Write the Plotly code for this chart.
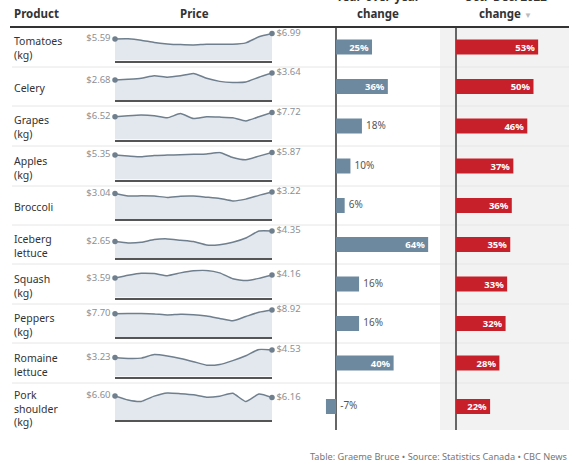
import plotly.graph_objects as go

# Data (monthly average retail prices, Dec 2021 - Dec 2022)

months = ['Dec 2021', 'Jan 2022', 'Feb 2022', 'Mar 2022', 'Apr 2022', 'May 2022', 'Jun 2022',
          'Jul 2022', 'Aug 2022', 'Sep 2022', 'Oct 2022', 'Nov 2022', 'Dec 2022']

products = ['Tomatoes<br>(kg)', 'Celery', 'Grapes<br>(kg)', 'Apples<br>(kg)', 'Broccoli',
            'Iceberg<br>lettuce', 'Squash<br>(kg)', 'Peppers<br>(kg)', 'Romaine<br>lettuce',
            'Pork<br>shoulder<br>(kg)']

tomatoes = [5.59, 5.61, 5.26, 4.65, 4.30, 4.12, 4.04, 4.20, 4.20, 4.20, 4.57, 6.14, 6.99]
celery = [2.68, 2.79, 2.93, 3.26, 3.07, 3.26, 3.58, 2.93, 2.51, 2.37, 2.43, 3.07, 3.64]
grapes = [6.52, 6.80, 7.00, 6.80, 6.20, 7.40, 6.00, 6.50, 6.40, 6.20, 5.29, 6.50, 7.72]
apples = [5.35, 5.12, 4.92, 5.23, 5.31, 5.39, 5.47, 5.55, 5.86, 4.77, 4.28, 5.08, 5.87]
broccoli = [3.04, 2.74, 2.76, 2.74, 2.57, 2.72, 2.74, 2.60, 2.45, 2.16, 2.37, 2.82, 3.22]
iceberg = [2.65, 2.42, 2.53, 2.97, 3.08, 2.86, 2.64, 2.09, 2.14, 2.53, 3.22, 4.34, 4.35]
squash = [3.59, 4.11, 4.49, 4.43, 4.05, 4.56, 4.94, 5.00, 4.56, 3.48, 3.13, 3.54, 4.16]
peppers = [7.70, 7.73, 7.73, 7.61, 7.27, 7.50, 7.39, 6.93, 6.14, 5.34, 6.76, 8.18, 8.92]
romaine = [3.23, 3.07, 3.13, 3.73, 3.49, 3.07, 2.53, 1.93, 2.05, 2.71, 3.54, 4.60, 4.53]
pork = [6.60, 5.48, 5.10, 6.54, 7.40, 7.21, 6.92, 6.25, 6.54, 7.31, 5.05, 7.12, 6.16]

yoy_change = [25, 36, 18, 10, 6, 64, 16, 16, 40, -7]
q4_change = [53, 50, 46, 37, 36, 35, 33, 32, 28, 22]

prices = [tomatoes, celery, grapes, apples, broccoli, iceberg, squash, peppers, romaine, pork]

# Layout helpers (pixels -> paper)
W, H = 576, 466
row_edges = [27, 67, 106, 146, 186, 225, 264, 304, 343, 383, 430]


def px(x):
    return x / W


def py(y):
    return 1 - y / H


FONT = 'Noto Sans'
LINE = '#6f7f8d'
FILL = '#e3e8ee'
BLUE = '#6d899f'
RED = '#c8202b'

fig = go.Figure()
layout = {}
shapes = []
annotations = []

for i, series in enumerate(prices):
    top, bot = row_edges[i], row_edges[i + 1]
    c = (top + bot) / 2
    k = 3 * i + 1

    # sparkline
    xa, ya = f'x{k}', f'y{k}'
    layout[f'xaxis{k}'] = dict(domain=[px(115), px(272)], range=[0, 12], anchor=ya,
                               showline=True, linecolor='#555', linewidth=1.5,
                               showgrid=False, zeroline=False, showticklabels=False, ticks='')
    layout[f'yaxis{k}'] = dict(domain=[py(c + 13.5), py(c - 14.5)], range=[0, max(series) * 28 / 27],
                               anchor=xa, visible=False)
    fig.add_trace(go.Scatter(x=months, y=series, xaxis=xa, yaxis=ya, mode='lines',
                             line=dict(color=LINE, width=1.5, shape='spline', smoothing=0.5),
                             fill='tozeroy', fillcolor=FILL, hoverinfo='skip'))
    fig.add_trace(go.Scatter(x=[months[0], months[-1]], y=[series[0], series[-1]],
                             xaxis=xa, yaxis=ya, mode='markers+text',
                             marker=dict(color=LINE, size=5.5),
                             text=[f'${series[0]:.2f}', f'${series[-1]:.2f}'],
                             textposition=['middle left', 'middle right'],
                             textfont=dict(size=9.5, color='#8c9096'),
                             cliponaxis=False, hoverinfo='skip'))

    # year-over-year bar
    xa, ya = f'x{k + 1}', f'y{k + 1}'
    v = yoy_change[i]
    layout[f'xaxis{k + 1}'] = dict(domain=[px(312), px(446)], range=[-16.7, 76.4], anchor=ya,
                                   showgrid=False, zeroline=True, zerolinecolor='#666',
                                   zerolinewidth=1.5, showticklabels=False, ticks='')
    layout[f'yaxis{k + 1}'] = dict(domain=[py(bot), py(top)], range=[-0.5, 0.5], anchor=xa,
                                   visible=False)
    fig.add_trace(go.Bar(x=[v], y=[0], orientation='h', xaxis=xa, yaxis=ya,
                         width=15 / (bot - top), marker=dict(color=BLUE, line=dict(width=0)),
                         text=[f'{v}%'] if v >= 25 else None,
                         textposition='inside', insidetextanchor='end', textangle=0,
                         constraintext='none',
                         insidetextfont=dict(size=9.5, color='white', weight='bold'),
                         hoverinfo='skip'))
    if v < 25:
        # invisible marker pushes the label a few pixels off the bar end
        fig.add_trace(go.Scatter(x=[max(v, 0)], y=[0], xaxis=xa, yaxis=ya, mode='markers+text',
                                 marker=dict(size=5, opacity=0),
                                 text=[f'{v}%'], textposition='middle right',
                                 textfont=dict(size=10, color='#555'),
                                 cliponaxis=False, hoverinfo='skip'))

    # Oct.-Dec. change bar
    xa, ya = f'x{k + 2}', f'y{k + 2}'
    v = q4_change[i]
    layout[f'xaxis{k + 2}'] = dict(domain=[px(446), px(569)], range=[-6.45, 72.9], anchor=ya,
                                   showgrid=False, zeroline=True, zerolinecolor='#666',
                                   zerolinewidth=1.5, showticklabels=False, ticks='')
    layout[f'yaxis{k + 2}'] = dict(domain=[py(bot), py(top)], range=[-0.5, 0.5], anchor=xa,
                                   visible=False)
    fig.add_trace(go.Bar(x=[v], y=[0], orientation='h', xaxis=xa, yaxis=ya,
                         width=15 / (bot - top), marker=dict(color=RED, line=dict(width=0)),
                         text=[f'{v}%'], textposition='inside', insidetextanchor='end',
                         textangle=0, constraintext='none',
                         insidetextfont=dict(size=9.5, color='white', weight='bold'),
                         hoverinfo='skip'))

    # product name
    annotations.append(dict(x=px(12), y=py(c + 1.5), text=products[i],
                            xanchor='left', align='left',
                            font=dict(size=10.5, color='#333')))
    if i > 0:
        shapes.append(dict(type='line', xref='paper', yref='paper', x0=px(12), x1=px(569),
                           y0=py(top), y1=py(top), line=dict(color='#e6e6e6', width=1),
                           layer='below'))

# grey background behind the Oct.-Dec. column
shapes.insert(0, dict(type='rect', xref='paper', yref='paper', x0=px(440), x1=px(569),
                      y0=py(430), y1=py(28), fillcolor='#f2f2f2', line=dict(width=0),
                      layer='below'))
# header rule
shapes.append(dict(type='line', xref='paper', yref='paper', x0=px(10), x1=px(569),
                   y0=py(27), y1=py(27), line=dict(color='#333', width=2)))

head = dict(size=11.5, color='#333', weight='bold')
annotations += [
    dict(x=px(12), y=py(13), text='Product', xanchor='left', font=head),
    dict(x=px(194), y=py(13), text='Price', xanchor='center', font=head),
    dict(x=px(378), y=py(-3), text='Year-over-year', xanchor='center', font=head),
    dict(x=px(378), y=py(13), text='change', xanchor='center', font=head),
    dict(x=px(505), y=py(-3), text='Oct.–Dec. 2022', xanchor='center', font=head),
    dict(x=px(505), y=py(13), text="change <span style='color:#bbbbbb;font-size:8px'>▼</span>",
         xanchor='center', font=head),
    dict(x=px(569), y=py(456), text='Table: Graeme Bruce • Source: Statistics Canada • CBC News',
         xanchor='right', font=dict(size=9.2, color='#777')),
]
for a in annotations:
    a.setdefault('xref', 'paper')
    a.setdefault('yref', 'paper')
    a.setdefault('yanchor', 'middle')
    a.setdefault('showarrow', False)

fig.update_layout(**layout)
fig.update_layout(width=W, height=H, margin=dict(l=0, r=0, t=0, b=0),
                  paper_bgcolor='white', plot_bgcolor='rgba(0,0,0,0)',
                  font=dict(family=FONT, color='#333'), showlegend=False,
                  hovermode=False, barmode='overlay',
                  shapes=shapes, annotations=annotations)

# drop the page's default 8px body margin so the figure sits at the window corner
fig.write_html('out.html', config={'displayModeBar': False},
               post_script="document.body.style.margin='0px';")
